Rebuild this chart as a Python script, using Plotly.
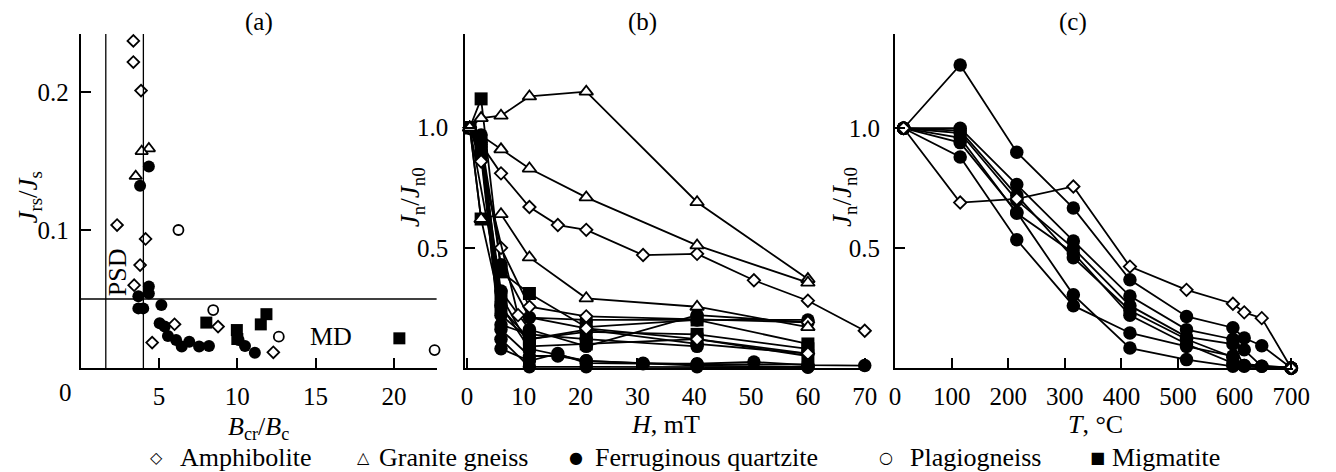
import plotly.graph_objects as go

W, H = 1336, 472
FONT = "Liberation Serif"

# ---------------- Panel (a): Bcr/Bc vs Jrs/Js ----------------
amph_a_x = [2.99, 3.36, 3.36, 3.85, 2.32, 4.14, 3.79, 3.41, 5.99, 8.77, 4.56, 12.3]
amph_a_y = [0.2457, 0.237, 0.2217, 0.201, 0.1036, 0.0935, 0.0746, 0.060, 0.0317, 0.030, 0.0184, 0.0114]
gran_a_x = [4.35, 3.89, 3.51]
gran_a_y = [0.159, 0.157, 0.139]
ferr_a_x = [4.35, 3.79, 4.35, 4.35, 3.68, 3.68, 3.99, 5.15, 5.04, 5.36, 5.57, 6.09, 6.45, 6.93,
            7.56, 8.19, 10.08, 10.49, 11.12]
ferr_a_y = [0.146, 0.132, 0.059, 0.054, 0.052, 0.0432, 0.0432, 0.0457, 0.0324, 0.030, 0.0232,
            0.0203, 0.0155, 0.019, 0.0155, 0.016, 0.0203, 0.016, 0.0111]
plag_a_x = [6.24, 8.46, 12.65, 22.6]
plag_a_y = [0.100, 0.042, 0.0227, 0.013]
migm_a_x = [8.02, 9.97, 10.0, 11.5, 11.86, 20.35]
migm_a_y = [0.0329, 0.0275, 0.021, 0.0316, 0.039, 0.0215]
psd_bounds = [1.6, 4.0]
md_limit = 0.05

# ---------------- Panel (b): AF demagnetization ----------------
af_gran_H = [[0.5, 2.5, 6, 11, 21, 40.5, 60],
             [0.5, 6, 11, 21, 40.5, 60],
             [0.5, 2.5, 6, 11, 21, 40.5, 60]]
af_gran_J = [[1.0, 1.04, 1.05, 1.13, 1.15, 0.69, 0.37],
             [1.0, 0.91, 0.83, 0.71, 0.51, 0.355],
             [1.0, 0.62, 0.64, 0.46, 0.29, 0.255, 0.17]]
af_amph_H = [[0.5, 6, 11, 16, 21, 31, 40.5, 50.5, 60, 70],
             [0.5, 2.5, 6, 11, 21, 60],
             [0.5, 2.5, 9, 21, 40.5, 60]]
af_amph_J = [[1.0, 0.81, 0.67, 0.595, 0.575, 0.47, 0.475, 0.365, 0.28, 0.155],
             [1.0, 0.86, 0.50, 0.255, 0.215, 0.19],
             [1.0, 0.86, 0.22, 0.165, 0.12, 0.06]]
af_migm_H = [[0.5, 2.5, 6, 11, 21, 40.5, 60],
             [0.5, 2.5, 6, 11, 21, 40.5, 60],
             [0.5, 6, 11, 21, 40.5, 60]]
af_migm_J = [[1.0, 1.12, 0.40, 0.31, 0.17, 0.20, 0.10],
             [1.0, 0.62, 0.25, 0.12, 0.15, 0.14, 0.08],
             [1.0, 0.30, 0.09, 0.10, 0.12, 0.05]]
af_ferr_H = [[0.5, 2.5, 6, 11, 21, 40.5, 60],
             [0.5, 2.5, 6, 11, 21, 40.5, 60],
             [0.5, 2.5, 6, 11, 21, 40.5, 60],
             [0.5, 2.5, 6, 11, 16, 21, 31, 40.5, 60],
             [0.5, 2.5, 6, 11, 16, 21, 31, 40.5, 50.5, 60, 70],
             [0.5, 2.5, 6, 11, 21, 40.5, 60],
             [0.5, 2.5, 6, 11, 21, 40.5, 60],
             [0.5, 2.5, 6, 11, 21, 40.5]]
af_ferr_J = [[1.0, 0.95, 0.43, 0.21, 0.20, 0.20, 0.20],
             [1.0, 0.90, 0.32, 0.16, 0.09, 0.22, 0.19],
             [1.0, 0.92, 0.22, 0.12, 0.16, 0.10, 0.06],
             [1.0, 0.90, 0.16, 0.05, 0.05, 0.03, 0.02, 0.015, 0.015],
             [1.0, 0.93, 0.08, 0.03, 0.06, 0.02, 0.018, 0.018, 0.025, 0.012, 0.01],
             [1.0, 0.88, 0.12, 0.005, 0.005, 0.005, 0.003],
             [1.0, 0.97, 0.26, 0.08, 0.03, 0.01, 0.005],
             [1.0, 0.94, 0.18, 0.14, 0.12, 0.09]]

# ---------------- Panel (c): thermal demagnetization ----------------
th_amph_T = [[15, 115, 215, 315, 415, 515, 597, 617, 648, 700]]
th_amph_J = [[1.0, 0.69, 0.705, 0.757, 0.423, 0.326, 0.268, 0.232, 0.208, 0.0]]
th_ferr_T = [[15, 115, 215, 315, 415, 515, 597, 617, 648, 700],
             [15, 115, 215, 315, 415, 515, 597, 617, 700],
             [15, 115, 215, 315, 415, 515, 597, 617, 648, 700],
             [15, 115, 215, 315, 415, 515, 597, 617, 700],
             [15, 115, 215, 315, 415, 515, 597, 700],
             [15, 115, 215, 315, 415, 515, 597, 700],
             [15, 115, 215, 315, 415, 515, 597, 617, 648, 700]]
th_ferr_J = [[1.0, 1.264, 0.90, 0.667, 0.368, 0.215, 0.168, 0.125, 0.093, 0.0],
             [1.0, 0.88, 0.535, 0.26, 0.146, 0.09, 0.05, 0.01, 0.0],
             [1.0, 1.0, 0.765, 0.53, 0.30, 0.16, 0.12, 0.076, 0.007, 0.0],
             [1.0, 0.98, 0.70, 0.50, 0.26, 0.13, 0.10, 0.007, 0.0],
             [1.0, 0.96, 0.645, 0.48, 0.22, 0.10, 0.02, 0.0],
             [1.0, 0.94, 0.65, 0.305, 0.083, 0.035, 0.007, 0.0],
             [1.0, 0.99, 0.72, 0.46, 0.24, 0.12, 0.045, 0.01, 0.007, 0.0]]

legend_labels = ["Amphibolite", "Granite gneiss", "Ferruginous quartzite", "Plagiogneiss", "Migmatite"]
legend_glyphs = ["\u25c7", "\u25b3", "\u25cf", "\u25cb", "\u25a0"]

# marker styles
STY = {
    "amph": dict(symbol="diamond", color="white", line=dict(color="black", width=1.8)),
    "gran": dict(symbol="triangle-up", color="white", line=dict(color="black", width=1.8)),
    "ferr": dict(symbol="circle", color="black", line=dict(color="black", width=0)),
    "plag": dict(symbol="circle", color="white", line=dict(color="black", width=1.8)),
    "migm": dict(symbol="square", color="black", line=dict(color="black", width=0)),
}
SIZE_A = {"amph": 9, "gran": 11, "ferr": 12, "plag": 10, "migm": 12}
SIZE_B = {"amph": 9.5, "gran": 12, "ferr": 13.5, "plag": 10, "migm": 13}

fig = go.Figure()


def scat(x, y, kind, xa, ya, mode="markers", sizes=SIZE_A):
    fig.add_trace(go.Scatter(
        x=x, y=y, mode=mode, xaxis=xa, yaxis=ya, cliponaxis=False, showlegend=False,
        line=dict(color="black", width=1.8),
        marker=dict(size=sizes[kind], **STY[kind]),
    ))


# panel a points
scat(ferr_a_x, ferr_a_y, "ferr", "x", "y")
scat(migm_a_x, migm_a_y, "migm", "x", "y")
scat(amph_a_x, amph_a_y, "amph", "x", "y")
scat(gran_a_x, gran_a_y, "gran", "x", "y")
scat(plag_a_x, plag_a_y, "plag", "x", "y")

# panel b curves
for hh, jj in zip(af_ferr_H, af_ferr_J):
    scat(hh, jj, "ferr", "x2", "y2", "lines+markers", SIZE_B)
for hh, jj in zip(af_migm_H, af_migm_J):
    scat(hh, jj, "migm", "x2", "y2", "lines+markers", SIZE_B)
for hh, jj in zip(af_amph_H, af_amph_J):
    scat(hh, jj, "amph", "x2", "y2", "lines+markers", SIZE_B)
for hh, jj in zip(af_gran_H, af_gran_J):
    scat(hh, jj, "gran", "x2", "y2", "lines+markers", SIZE_B)

# panel c curves
for tt, jj in zip(th_ferr_T, th_ferr_J):
    scat(tt, jj, "ferr", "x3", "y3", "lines+markers", SIZE_B)
for tt, jj in zip(th_amph_T, th_amph_J):
    scat(tt, jj, "amph", "x3", "y3", "lines+markers", SIZE_B)


def px(x):
    return x / W


def py(y):
    return 1 - y / H


axis_common = dict(
    showline=True, linecolor="black", linewidth=2, mirror=False,
    ticks="inside", ticklen=10, tickwidth=2, tickcolor="black",
    showgrid=False, zeroline=False,
    tickfont=dict(family=FONT, size=25, color="black"),
)

ydom = [py(368), py(34)]
fig.update_layout(
    width=W, height=H, autosize=False,
    margin=dict(l=0, r=0, t=0, b=0),
    paper_bgcolor="white", plot_bgcolor="white",
    xaxis=dict(domain=[px(76), px(438)], range=[0, 22.74], anchor="y",
               tickvals=[5, 10, 15, 20], ticktext=["5", "10", "15", "20"],
               ticklabelstandoff=5, **axis_common),
    yaxis=dict(domain=ydom, range=[0, 0.242], anchor="x",
               tickvals=[0.1, 0.2], ticktext=["0.1", "0.2"], ticklabelstandoff=5, **axis_common),
    xaxis2=dict(domain=[px(467), px(876)], range=[-0.28, 70.5], anchor="y2",
                tickvals=[0, 10, 20, 30, 40, 50, 60, 70], ticklabelstandoff=5, **axis_common),
    yaxis2=dict(domain=ydom, range=[0, 1.39], anchor="x2",
                tickvals=[0.5, 1.0], ticktext=["0.5", "1.0"], ticklabelstandoff=10, **axis_common),
    xaxis3=dict(domain=[px(904), px(1309)], range=[0, 704], anchor="y3",
                tickvals=[0, 100, 200, 300, 400, 500, 600, 700], ticklabelstandoff=5, **axis_common),
    yaxis3=dict(domain=ydom, range=[0, 1.393], anchor="x3",
                tickvals=[0.5, 1.0], ticktext=["0.5", "1.0"], ticklabelstandoff=8, **axis_common),
)

# reference lines in panel (a)
for xv in psd_bounds:
    fig.add_shape(type="line", xref="x", yref="y", x0=xv, x1=xv, y0=0, y1=0.242,
                  line=dict(color="black", width=1.3))
fig.add_shape(type="line", xref="x", yref="y", x0=0, x1=22.74, y0=md_limit, y1=md_limit,
              line=dict(color="black", width=1.3))

ann = []


def text(x, y, t, size=25, angle=0, xanchor="center", family=FONT):
    ann.append(dict(x=px(x), y=py(y), xref="paper", yref="paper", text=t, showarrow=False,
                    xanchor=xanchor, yanchor="middle", textangle=angle,
                    font=dict(family=family, size=size, color="black")))


text(257, 22, "(a)")
text(647, 22, "(b)")
text(1085, 22, "(c)")
text(60, 392, "0")
text(113, 272, "PSD", size=26, angle=-90)
text(330, 336, "MD", size=26)
text(257, 428, "<i>B</i><sub>cr</sub>/<i>B</i><sub>c</sub>", size=26)
text(671, 424, "<i>H</i>, mT", size=26)
text(1108, 424, "<i>T</i>, °C", size=26)
text(24, 197, "<i>J</i><sub>rs</sub>/<i>J</i><sub>s</sub>", size=27, angle=-90)
text(413, 197, "<i>J</i><sub>n</sub>/<i>J</i><sub>n0</sub>", size=27, angle=-90)
text(852, 197, "<i>J</i><sub>n</sub>/<i>J</i><sub>n0</sub>", size=27, angle=-90)

glyph_x = [153, 363, 580, 895, 1110]
label_x = [175, 377, 597, 917, 1122]
for g, gx, lab, lx in zip(legend_glyphs, glyph_x, legend_labels, label_x):
    text(gx, 457, g, size=16, family="DejaVu Sans")
    text(lx, 457, lab, size=26, xanchor="left")

fig.update_layout(annotations=ann)
fig.write_html(
    "out.html",
    config={"displayModeBar": False},
    post_script="document.body.style.margin='0';document.body.style.overflow='hidden';",
)
